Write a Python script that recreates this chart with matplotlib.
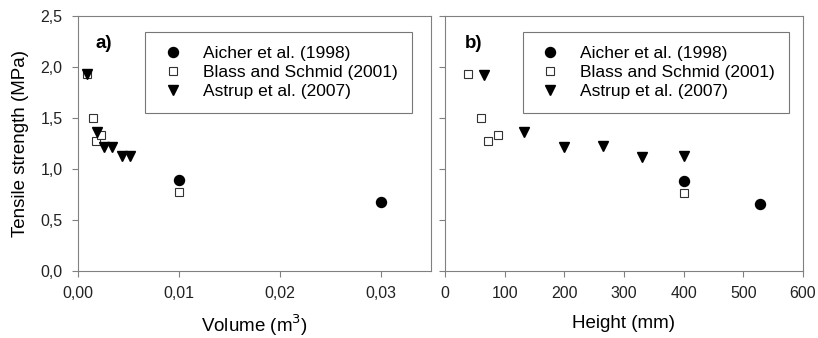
import matplotlib
matplotlib.use('Agg')
import matplotlib.pyplot as plt
from matplotlib.ticker import FuncFormatter

plt.rcParams['font.family'] = ['Liberation Sans', 'DejaVu Sans']

# 데이터
aicher_vol = [0.01, 0.03]
aicher_h = [400, 528]
aicher_ft_a = [0.89, 0.68]
aicher_ft_b = [0.88, 0.66]

blass_vol = [0.0009, 0.0015, 0.0018, 0.0023, 0.01]
blass_h = [39, 60, 72, 88, 400]
blass_ft_a = [1.93, 1.50, 1.27, 1.33, 0.77]
blass_ft_b = [1.93, 1.50, 1.27, 1.33, 0.76]

astrup_vol = [0.0009, 0.0019, 0.0026, 0.0034, 0.0044, 0.0052]
astrup_h = [66, 133, 200, 265, 331, 400]
astrup_ft_a = [1.93, 1.36, 1.22, 1.22, 1.13, 1.13]
astrup_ft_b = [1.92, 1.36, 1.22, 1.23, 1.12, 1.13]

labels = ['Aicher et al. (1998)', 'Blass and Schmid (2001)', 'Astrup et al. (2007)']

fig = plt.figure(figsize=(8.18, 3.38), dpi=100)
W, H = 818, 338
ax1 = fig.add_axes([78 / W, 1 - 271 / H, (431 - 78) / W, (271 - 16) / H])
ax2 = fig.add_axes([445 / W, 1 - 271 / H, (803 - 445) / W, (271 - 16) / H])

def comma(fmt):
    return FuncFormatter(lambda v, p: (fmt % v).replace('.', ','))

def draw(ax, xa, ya, xb, yb, xc, yc, anchor):
    ax.plot(xa, ya, 'o', color='black', ms=7.2, label=labels[0], ls='none')
    ax.plot(xb, yb, 's', mfc='white', mec='#333333', mew=0.8, ms=5.5, label=labels[1], ls='none')
    ax.plot(xc, yc, 'v', color='black', ms=7, label=labels[2], ls='none')
    ax.set_ylim(0, 2.5)
    ax.set_yticks([0, 0.5, 1.0, 1.5, 2.0, 2.5])
    for s in ax.spines.values():
        s.set_color('#808080')
        s.set_linewidth(0.8)
    ax.tick_params(direction='out', length=4, color='#808080', labelsize=11.5, colors='#222222', pad=7)
    leg = ax.legend(loc='upper right', bbox_to_anchor=anchor, fontsize=12.5, frameon=True,
                    fancybox=False, edgecolor='#555555', handletextpad=0.93, labelspacing=0.22,
                    borderpad=0.8, handlelength=1.6, borderaxespad=0)
    leg.get_frame().set_linewidth(0.8)

draw(ax1, aicher_vol, aicher_ft_a, blass_vol, blass_ft_a, astrup_vol, astrup_ft_a, (0.946, 0.937))
ax1.set_xlim(0, 0.035)
ax1.set_xticks([0, 0.01, 0.02, 0.03])
ax1.xaxis.set_major_formatter(comma('%.2f'))
ax1.yaxis.set_major_formatter(comma('%.1f'))
ax1.set_xlabel('Volume (m$^3$)', fontsize=13.5, labelpad=8)
ax1.set_ylabel('Tensile strength (MPa)', fontsize=13.5, labelpad=8)
ax1.text(0.05, 0.875, 'a)', transform=ax1.transAxes, fontsize=13.5, fontweight='bold')

draw(ax2, aicher_h, aicher_ft_b, blass_h, blass_ft_b, astrup_h, astrup_ft_b, (0.961, 0.937))
ax2.set_xlim(0, 600)
ax2.set_xticks([0, 100, 200, 300, 400, 500, 600])
ax2.set_yticklabels([])
ax2.set_xlabel('Height (mm)', fontsize=13.5, labelpad=10)
ax2.text(0.055, 0.875, 'b)', transform=ax2.transAxes, fontsize=13.5, fontweight='bold')

fig.savefig('out.png', dpi=100)
